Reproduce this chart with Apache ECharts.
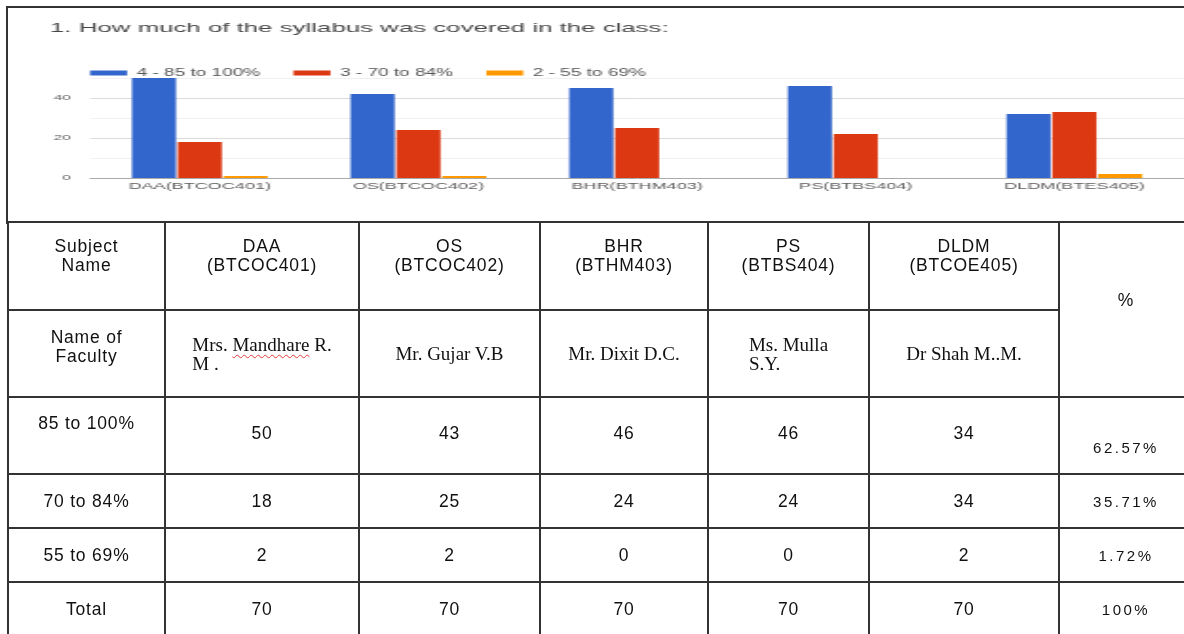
<!DOCTYPE html>
<html>
<head>
<meta charset="utf-8">
<script src="https://cdn.jsdelivr.net/npm/echarts@6/dist/echarts.min.js"></script>
<style>
  html, body { margin: 0; padding: 0; background: #fff; width: 1184px; height: 634px; overflow: hidden; position: relative; }
  #chart { position: absolute; left: 0; top: 0; width: 623.16px; height: 222px; transform: scaleX(1.9); transform-origin: 0 0; }
  #box { position: absolute; left: 6px; top: 6px; width: 1190px; height: 216px; border-left: 2px solid #333; border-top: 2px solid #333; pointer-events: none; }
  #tbl { position: absolute; left: 7px; top: 221px; border-collapse: collapse; table-layout: fixed; width: 1185px;
         font-family: 'Liberation Sans', Arial, sans-serif; font-size: 17.5px; letter-spacing: 0.8px; color: #111; }
  #tbl td { border: 2px solid #333; text-align: center; padding: 0; line-height: 19px; overflow: hidden; vertical-align: middle; }
  #tbl td.top { vertical-align: top; }
  #tbl td.fac { font-family: 'Liberation Serif', 'Times New Roman', serif; font-size: 19px; letter-spacing: 0; }
  #tbl td.fac span.blk { display: inline-block; text-align: left; }
  #tbl td.pc { font-size: 15px; letter-spacing: 2.5px; }
  .sp { text-decoration: underline wavy #e03a3a; text-decoration-thickness: 1px; text-underline-offset: 3px; }
</style>
</head>
<body>
<div id="chart"></div>
<div id="box"></div>
<table id="tbl"></table>
<script>
// ---------- chart data ----------
const categories = ['DAA(BTCOC401)', 'OS(BTCOC402)', 'BHR(BTHM403)', 'PS(BTBS404)', 'DLDM(BTES405)'];
const seriesNames = ['4 - 85 to 100%', '3 - 70 to 84%', '2 - 55 to 69%'];
const high = [50, 42, 45, 46, 32];
const mid = [18, 24, 25, 22, 33];
const low = [1, 1, 0, 0, 2];
const yTickLabels = [0, 20, 40];
const chartTitle = '1. How much of the syllabus was covered in the class:';

// ---------- table data ----------
const subjectNames = ['DAA', 'OS', 'BHR', 'PS', 'DLDM'];
const subjectCodes = ['(BTCOC401)', '(BTCOC402)', '(BTHM403)', '(BTBS404)', '(BTCOE405)'];
const facultyNames = [['Mrs. Mandhare R.', 'M .'], ['Mr. Gujar V.B'], ['Mr. Dixit D.C.'], ['Ms. Mulla', 'S.Y.'], ['Dr Shah M..M.']];
const rowLabels = ['85 to 100%', '70 to 84%', '55 to 69%', 'Total'];
const tableCounts = [
  [50, 43, 46, 46, 34],
  [18, 25, 24, 24, 34],
  [2, 2, 0, 0, 2],
  [70, 70, 70, 70, 70]
];
const rowPercents = ['62.57%', '35.71%', '1.72%', '100%'];

// ---------- chart ----------
const colors = ['#3366CC', '#DC3912', '#FF9900'];
const values = [high, mid, low];
const chart = echarts.init(document.getElementById('chart'));
chart.setOption({
  animation: false,
  textStyle: { fontFamily: "'Liberation Sans', Arial, sans-serif" },
  title: {
    text: chartTitle, left: 26.3, top: 21, padding: 0,
    textStyle: { fontSize: 13.6, fontWeight: 'normal', color: '#474747' }
  },
  legend: {
    left: 47.4, top: 68, padding: 0, itemWidth: 19.5, itemHeight: 5, itemGap: 17.5, icon: 'rect',
    textStyle: { fontSize: 10, color: '#555' }, data: seriesNames
  },
  grid: { left: 47.6, top: 78, width: 578.9, height: 100 },
  xAxis: {
    type: 'category', data: categories,
    axisTick: { show: false },
    axisLine: { lineStyle: { color: '#aaa' } },
    axisLabel: { fontSize: 9.5, color: '#5c5c5c', margin: 3.5, interval: 0 }
  },
  yAxis: {
    type: 'value', min: 0, max: 50, interval: 10,
    axisLine: { show: false }, axisTick: { show: false },
    axisLabel: { fontSize: 8, color: '#5c5c5c', margin: 10.5, formatter: v => yTickLabels.includes(v) ? String(v) : '' },
    splitLine: { lineStyle: { color: ['#dcdcdc', '#f0f0f0'] } }
  },
  series: seriesNames.map((n, i) => ({
    name: n, type: 'bar', data: values[i], barWidth: 23.2, barGap: '4%',
    itemStyle: { color: colors[i] }
  }))
});

// ---------- table ----------
const colWidths = [157, 194, 181, 168, 161, 190, 134];
const rowHeights = [88, 87, 77, 54, 54, 54];
let html = '<colgroup>' + colWidths.map(w => `<col style="width:${w}px">`).join('') + '</colgroup>';
html += `<tr style="height:${rowHeights[0]}px"><td class="top" style="padding-top:14px">Subject<br>Name</td>` +
  subjectNames.map((n, i) => `<td class="top" style="padding-top:14px">${n}<br>${subjectCodes[i]}</td>`).join('') +
  `<td rowspan="2" style="padding-bottom:18px">%</td></tr>`;
html += `<tr style="height:${rowHeights[1]}px"><td style="padding-bottom:14px">Name of<br>Faculty</td>` +
  facultyNames.map((f, i) => {
    let lines = f.slice();
    if (i === 0) lines[0] = lines[0].replace('Mandhare', '<span class="sp">Mandhare</span>');
    return `<td class="fac"><span class="blk">${lines.join('<br>')}</span></td>`;
  }).join('') + '</tr>';
rowLabels.forEach((lab, r) => {
  const first = r === 0;
  html += `<tr style="height:${rowHeights[r + 2]}px">` +
    `<td class="${first ? 'top' : ''}" style="${first ? 'padding-top:16px' : ''}">${lab}</td>` +
    tableCounts[r].map(v => `<td style="${first ? 'padding-bottom:5px' : ''}">${v}</td>`).join('') +
    `<td class="pc" style="${first ? 'vertical-align:bottom;padding-bottom:16px' : ''}">${rowPercents[r]}</td></tr>`;
});
document.getElementById('tbl').innerHTML = html;
</script>
</body>
</html>
